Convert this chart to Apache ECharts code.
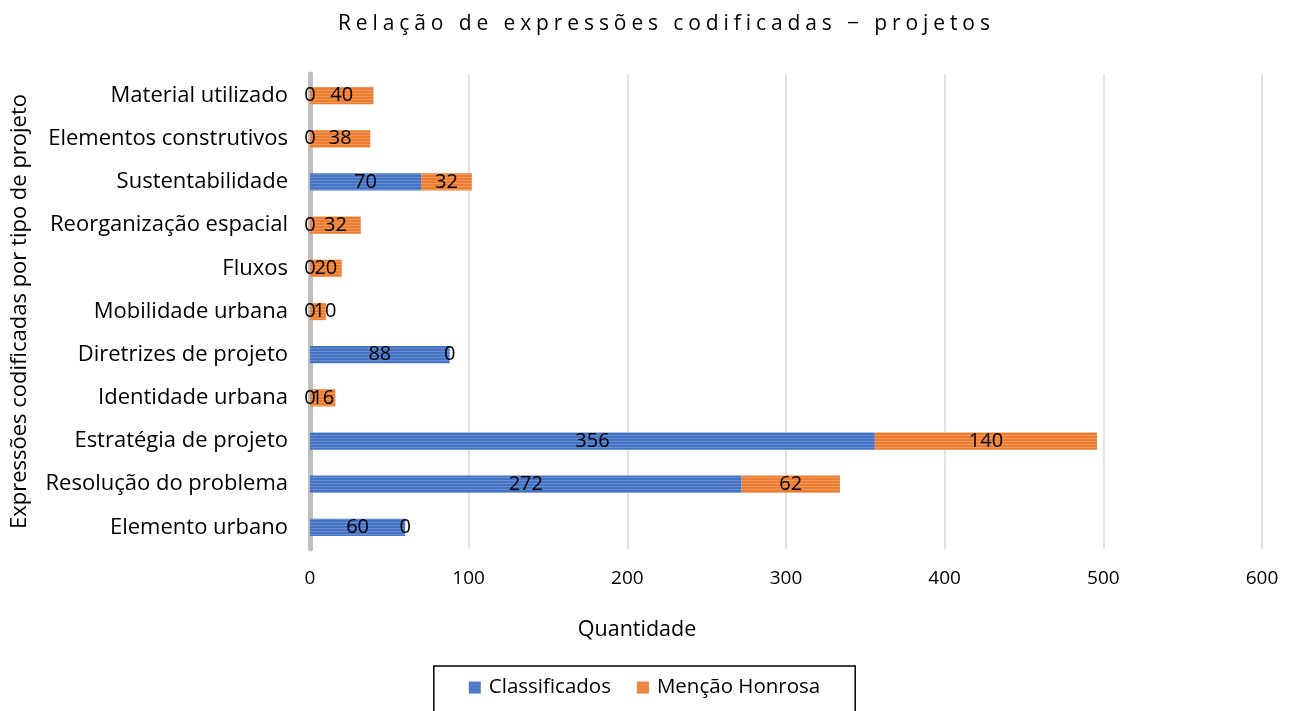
<!DOCTYPE html>
<html><head><meta charset="utf-8">
<script src="https://cdn.jsdelivr.net/npm/echarts@6/dist/echarts.min.js"></script>
<style>html,body{margin:0;padding:0;background:#fff}#c{width:1289px;height:711px}</style>
</head><body><div id="c"></div>
<script>
const chartTitle = 'Relação de expressões codificadas − projetos';
const categories = ['Elemento urbano','Resolução do problema','Estratégia de projeto','Identidade urbana','Diretrizes de projeto','Mobilidade urbana','Fluxos','Reorganização espacial','Sustentabilidade','Elementos construtivos','Material utilizado'];
const classificados = [60, 272, 356, 0, 88, 0, 0, 0, 70, 0, 0];
const mencaoHonrosa = [0, 62, 140, 16, 0, 10, 20, 32, 32, 38, 40];
const xTicks = [0, 100, 200, 300, 400, 500, 600];

const FONT = '"Open Sans"';
const TITLE_FONT = '21px "Open Sans"';
// widen the title with letter spacing like the reference
(function(){
  const c = document.createElement('canvas').getContext('2d');
  c.font = TITLE_FONT;
  const w = c.measureText(chartTitle).width;
  const spacing = Math.max(0, (652 - w) / (chartTitle.length - 1));
  const orig = CanvasRenderingContext2D.prototype.fillText;
  CanvasRenderingContext2D.prototype.fillText = function(t, x, y, m){
    if (t === chartTitle && 'letterSpacing' in this) {
      const prev = this.letterSpacing;
      this.letterSpacing = spacing.toFixed(2) + 'px';
      const r = m === undefined ? orig.call(this, t, x, y) : orig.call(this, t, x, y, m);
      this.letterSpacing = prev;
      return r;
    }
    return orig.apply(this, arguments);
  };
})();

const decal = {symbol:'rect', symbolSize:1, dashArrayX:[[1,0]], dashArrayY:[1,2], rotation:0, color:'rgba(255,255,255,0.2)'};
const label = {show:true, position:'inside', color:'#000', fontSize:20, fontFamily:FONT};

// nudge very short labels right so they do not collide with the "0" beside them
const mencaoData = mencaoHonrosa.map((v, i) =>
  (classificados[i] === 0 && v > 0 && v < 14) ? {value:v, label:{offset:[7,0]}} : v);

const chart = echarts.init(document.getElementById('c'));
chart.setOption({
  animation:false,
  textStyle:{fontFamily:FONT},
  title:{text:chartTitle, left:333, top:9,
    textStyle:{fontFamily:FONT, fontSize:21, fontWeight:'normal', color:'#000'}},
  grid:{left:310, right:27, top:74, bottom:162, containLabel:false},
  xAxis:{type:'value', min:xTicks[0], max:xTicks[xTicks.length-1], interval:100,
    name:'Quantidade', nameLocation:'middle', nameGap:70,
    nameTextStyle:{fontSize:21.5, color:'#000', fontFamily:FONT, padding:[0,298,0,0]},
    axisLine:{show:false}, axisTick:{show:false},
    axisLabel:{fontSize:19, color:'#000', margin:20, fontFamily:FONT},
    splitLine:{lineStyle:{color:'#d9d9d9', width:1.5}}},
  yAxis:{type:'category', data:categories,
    name:'Expressões codificadas por tipo de projeto', nameLocation:'middle', nameRotate:90, nameGap:279,
    nameTextStyle:{fontSize:22, color:'#000', fontFamily:FONT},
    axisLine:{lineStyle:{color:'#bfbfbf', width:5}}, axisTick:{show:false},
    axisLabel:{fontSize:22, color:'#000', margin:22, fontFamily:FONT}},
  legend:{top:666, left:'center', itemWidth:12, itemHeight:12, itemGap:26,
    icon:'rect', borderColor:'#000', borderWidth:1.5, padding:[11,35,30,35],
    textStyle:{fontSize:20.5, color:'#000', fontFamily:FONT, padding:[0,0,0,3]}},
  series:[
    {name:'Classificados', type:'bar', stack:'t', data:classificados, barCategoryGap:'60%',
      itemStyle:{color:'#4472C4', decal:decal}, label:label},
    {name:'Menção Honrosa', type:'bar', stack:'t', data:mencaoData,
      itemStyle:{color:'#ED7D31', decal:decal}, label:label}
  ]
});
</script></body></html>
